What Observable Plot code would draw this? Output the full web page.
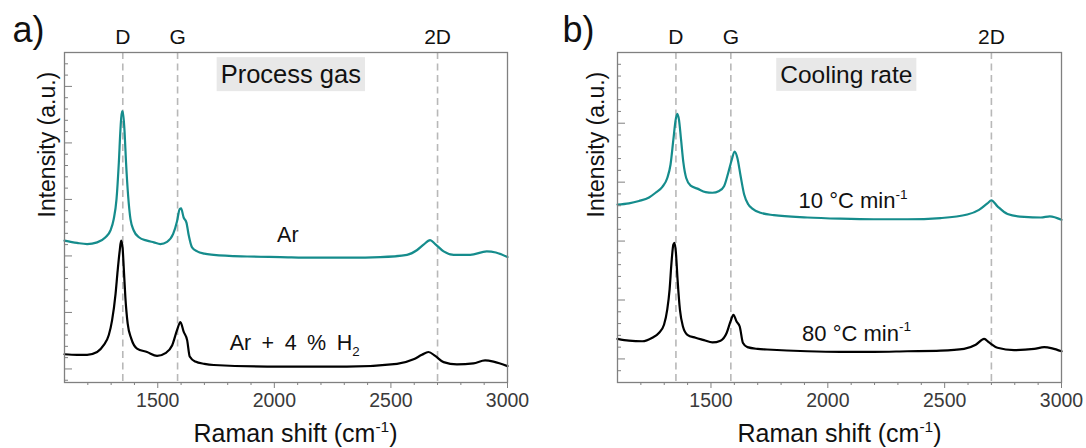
<!DOCTYPE html>
<html><head><meta charset="utf-8">
<script src="https://cdn.jsdelivr.net/npm/d3@7"></script>
<script src="https://cdn.jsdelivr.net/npm/@observablehq/plot@0.6"></script>
<style>
html,body{margin:0;padding:0;background:#fff;}
#wrap{display:flex;width:1086px;height:448px;overflow:hidden;}
</style></head><body><div id="wrap"></div>
<script>
// ---------- data ----------
const peakPos = [1350, 1585, 2700];
const peakNames = ["D", "G", "2D"];
const xMajor = [1500, 2000, 2500, 3000];
const xMinor = [1200, 1300, 1400, 1600, 1700, 1800, 1900, 2100, 2200, 2300, 2400, 2600, 2700, 2800, 2900];

const yMajorA = [0, 1, 2, 3, 4, 5];
const yMinorA = [-0.2, 0.2, 0.4, 0.6, 0.8, 1.2, 1.4, 1.6, 1.8, 2.2, 2.4, 2.6, 2.8, 3.2, 3.4, 3.6, 3.8, 4.2, 4.4, 4.6, 4.8, 5.2, 5.4];
const yMajorB = [0, 1, 2, 3, 4];
const yMinorB = [-0.2, 0.2, 0.4, 0.6, 0.8, 1.2, 1.4, 1.6, 1.8, 2.2, 2.4, 2.6, 2.8, 3.2, 3.4, 3.6, 3.8, 4.2, 4.4, 4.6, 4.8, 5.0];

// panel a: Ar
const arX = [1100,1154,1197,1240,1276,1297,1311,1323,1333,1340,1346,1350,1357,1364,1373,1383,1397,1419,1454,1483,1511,1540,1566,1583,1594,1600,1611,1623,1633,1647,1669,1700,1740,1883,2026,2169,2325,2454,2569,2611,2640,2668,2690,2726,2769,2840,2911,2950,3000];
const arY = [2.27,2.23,2.21,2.24,2.33,2.45,2.65,3.00,3.65,4.24,4.56,4.56,4.24,3.65,3.06,2.65,2.45,2.33,2.27,2.24,2.21,2.25,2.39,2.62,2.83,2.84,2.68,2.59,2.36,2.15,2.08,2.04,2.02,1.99,1.98,1.97,1.97,1.98,2.02,2.10,2.20,2.28,2.21,2.08,2.02,2.02,2.08,2.06,1.98];
// panel a: Ar + 4 % H2
const h2X = [1100,1154,1197,1240,1268,1290,1304,1319,1328,1337,1343,1349,1354,1361,1371,1386,1411,1454,1497,1533,1562,1583,1597,1611,1626,1637,1661,1700,1740,2026,2311,2526,2597,2633,2661,2690,2726,2783,2854,2904,2940,3000];
const h2Y = [0.26,0.25,0.25,0.30,0.42,0.60,0.86,1.33,1.74,2.10,2.27,2.15,1.80,1.27,0.80,0.54,0.36,0.30,0.23,0.28,0.42,0.69,0.83,0.66,0.51,0.22,0.13,0.09,0.07,0.04,0.04,0.09,0.17,0.25,0.30,0.23,0.12,0.08,0.10,0.15,0.13,0.05];
// panel b: 10 °C/min
const r10X = [1100,1149,1192,1235,1263,1292,1313,1327,1339,1349,1356,1363,1372,1382,1394,1413,1442,1477,1506,1535,1556,1574,1589,1601,1613,1627,1642,1660,1677,1712,1769,1912,2054,2197,2340,2483,2597,2647,2683,2700,2726,2769,2840,2912,2950,3000];
const r10Y = [2.62,2.64,2.68,2.74,2.82,2.92,3.07,3.30,3.72,4.06,4.16,4.06,3.72,3.33,3.07,2.94,2.89,2.83,2.82,2.85,2.93,3.16,3.38,3.52,3.41,3.10,2.79,2.62,2.55,2.48,2.44,2.40,2.38,2.37,2.37,2.39,2.45,2.53,2.64,2.69,2.59,2.46,2.41,2.40,2.42,2.36];
// panel b: 80 °C/min
const r80X = [1100,1149,1206,1249,1277,1299,1313,1323,1331,1339,1344,1350,1357,1367,1380,1399,1434,1470,1506,1541,1567,1584,1596,1609,1623,1637,1656,1700,1740,1912,2054,2197,2340,2483,2583,2633,2669,2690,2726,2797,2883,2926,2960,3000];
const r80Y = [0.34,0.31,0.30,0.36,0.44,0.58,0.84,1.18,1.63,1.94,1.97,1.80,1.35,0.84,0.55,0.41,0.36,0.32,0.28,0.31,0.44,0.64,0.75,0.64,0.55,0.27,0.20,0.17,0.16,0.13,0.12,0.12,0.13,0.14,0.17,0.24,0.34,0.28,0.19,0.15,0.17,0.20,0.18,0.13];

const labelsA = ["Ar", "Ar + 4 % H_{2}"];
const labelAX = [2058, 2087];
const labelAY = [2.36, 0.46];
const labelsB = ["10 °C min^{-1}", "80 °C min^{-1}"];
const labelBX = [2108, 2123];
const labelBY = [2.68, 0.43];

// ---------- drawing ----------
const FONT = "'Liberation Sans', Arial, Helvetica, sans-serif";
const TEAL = "#158c8c";
const rows = (xs, ys) => xs.map((x, i) => ({x, y: ys[i]}));

function panel(o) {
  return Plot.plot({
    width: 543, height: 448,
    marginLeft: o.mL, marginRight: o.mR, marginTop: 52, marginBottom: 66,
    style: {fontFamily: FONT, fontSize: "19px", background: "white", color: "#222", overflow: "visible"},
    x: {domain: [1100, 3000]},
    y: {domain: o.yDomain},
    marks: [
      Plot.ruleX(peakPos, {x: d => d, stroke: "#b8b8b8", strokeWidth: 1.6, strokeDasharray: "7,4.5"}),
      Plot.line(rows(o.topX, o.topY), {x: "x", y: "y", stroke: TEAL, strokeWidth: 2.2, curve: "monotone-x"}),
      Plot.line(rows(o.botX, o.botY), {x: "x", y: "y", stroke: "#000", strokeWidth: 2.2, curve: "monotone-x"}),
      Plot.frame({stroke: "#808080", strokeWidth: 1.3}),
      Plot.axisX({ticks: xMajor, tickSize: 6, tickPadding: 5, tickFormat: d => String(d), label: null, stroke: "#808080", fill: "#3a3a3a", fontSize: 19.5}),
      Plot.axisX({ticks: xMinor, tickSize: 3, tickFormat: () => "", label: null, stroke: "#808080"}),
      Plot.axisY({ticks: o.yMajor, tickSize: -8, tickFormat: () => "", label: null, stroke: "#808080"}),
      Plot.axisY({ticks: o.yMinor, tickSize: -4, tickFormat: () => "", label: null, stroke: "#808080"}),
      Plot.text(peakPos, {x: d => d, text: (d, i) => peakNames[i], frameAnchor: "top", lineAnchor: "middle", dy: -15.5, fontSize: 21, fill: "#111"}),
      Plot.text([o.tag], {text: d => d, frameAnchor: "top-left", lineAnchor: "middle", textAnchor: "start", dx: o.tagDx, dy: -22.5, fontSize: 36, fill: "#111"}),
      Plot.text(["Raman shift (cm^{-1})"], {text: d => d, frameAnchor: "bottom", lineAnchor: "middle", dx: o.xTitleDx, dy: 51.7, fontSize: 25, fill: "#111"}),
      Plot.text(["Intensity (a.u.)"], {text: d => d, frameAnchor: "left", lineAnchor: "middle", rotate: -90, dx: o.yTitleDx, fontSize: 23, fill: "#111"}),
      Plot.text([o.box], {text: d => d, frameAnchor: "top", lineAnchor: "middle", dx: o.boxDx, dy: 22.5, fontSize: o.boxSize, fill: "#111"}),
      Plot.text(o.labels, {x: (d, i) => o.labX[i], y: (d, i) => o.labY[i], text: d => d, lineAnchor: "middle", fontSize: o.labSize, fill: "#111"})
    ]
  });
}

const a = panel({mL: 64, mR: 36, yDomain: [-0.24, 5.6], yMajor: yMajorA, yMinor: yMinorA,
  topX: arX, topY: arY, botX: h2X, botY: h2Y, tag: "a)", tagDx: -52, xTitleDx: 9.5, yTitleDx: -17.3,
  box: "Process gas", boxDx: 4.8, boxSize: 25.5, labels: labelsA, labX: labelAX, labY: labelAY, labSize: 21.5});
const b = panel({mL: 74, mR: 25, yDomain: [-0.4, 5.2], yMajor: yMajorB, yMinor: yMinorB,
  topX: r10X, topY: r10Y, botX: r80X, botY: r80Y, tag: "b)", tagDx: -55, xTitleDx: 0, yTitleDx: -20.7,
  box: "Cooling rate", boxDx: 6.8, boxSize: 24.5, labels: labelsB, labX: labelBX, labY: labelBY, labSize: 22});

const wrap = document.getElementById("wrap");
wrap.appendChild(a);
wrap.appendChild(b);

const NS = "http://www.w3.org/2000/svg";
function richText(svg) {
  svg.querySelectorAll("text").forEach(t => {
    const s = t.textContent;
    if (s === "Ar + 4 % H_{2}") t.setAttribute("word-spacing", "4.5");
    if (!/[\^_]\{/.test(s)) return;
    const fs = parseFloat(getComputedStyle(t).fontSize);
    t.textContent = "";
    const re = /([\^_])\{([^}]*)\}/g;
    let last = 0, m, shift = 0;
    const add = (str, dy, size) => {
      const ts = document.createElementNS(NS, "tspan");
      ts.textContent = str;
      if (dy) ts.setAttribute("dy", dy);
      if (size) ts.setAttribute("font-size", size);
      t.appendChild(ts);
    };
    while ((m = re.exec(s))) {
      if (m.index > last) { add(s.slice(last, m.index), shift ? -shift : 0); shift = 0; }
      const d = m[1] === "^" ? -0.42 * fs : 0.28 * fs;
      add(m[2], d - shift, 0.62 * fs);
      shift = d;
      last = re.lastIndex;
    }
    if (last < s.length) add(s.slice(last), shift ? -shift : 0);
  });
}
function boxes(svg, label) {
  svg.querySelectorAll("text").forEach(t => {
    if (t.textContent !== label) return;
    const bb = t.getBBox();
    const r = document.createElementNS(NS, "rect");
    r.setAttribute("x", bb.x - 4);
    r.setAttribute("y", bb.y - 3);
    r.setAttribute("width", bb.width + 8);
    r.setAttribute("height", bb.height + 6);
    r.setAttribute("fill", "#e8e8e8");
    const tr = t.getAttribute("transform");
    if (tr) r.setAttribute("transform", tr);
    t.parentNode.insertBefore(r, t);
  });
}
richText(a); richText(b);
boxes(a, "Process gas"); boxes(b, "Cooling rate");
</script>
</body></html>
